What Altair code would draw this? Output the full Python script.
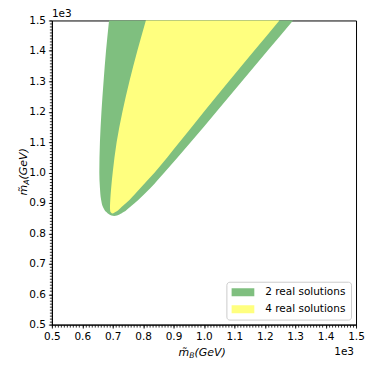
import altair as alt
import pandas as pd

# ---- data (GeV) ----
# Green region: 2 real solutions, boundaries in m_B for each m_A level
green_mA    = [857, 859, 862, 870, 887, 910, 950, 1000, 1100, 1200, 1300, 1400, 1500]
green_left  = [705, 696, 689, 679, 668, 662, 658, 656, 658, 663, 670, 678, 688]
green_right = [705, 714, 722, 736, 757, 784, 825, 870, 957, 1041, 1125, 1209, 1293]

# Yellow region: 4 real solutions
yellow_mA    = [865, 868, 872, 887, 910, 950, 1000, 1100, 1200, 1300, 1400, 1500]
yellow_left  = [699, 695, 692, 691, 692, 695, 700, 713, 732, 755, 781, 809]
yellow_right = [699, 705, 712, 729, 755, 792, 838, 920, 1000, 1082, 1165, 1248]

labels = ["2 real solutions", "4 real solutions"]
colors = ["#7fbf7f", "#ffff7f"]

major_ticks = [500, 600, 700, 800, 900, 1000, 1100, 1200, 1300, 1400, 1500]
minor_ticks = list(range(500, 1501, 10))

gdf = pd.DataFrame({"mA": green_mA, "left": green_left, "right": green_right, "kind": labels[0]})
ydf = pd.DataFrame({"mA": yellow_mA, "left": yellow_left, "right": yellow_right, "kind": labels[1]})

FONT = "DejaVu Sans"
FS = 10.5

xscale = alt.Scale(domain=[500, 1500], nice=False, zero=False)
yscale = alt.Scale(domain=[500, 1500], nice=False, zero=False)

def major_axis(orient):
    return alt.Axis(values=major_ticks, labelExpr="format(datum.value/1000, '.1f')",
                    title=None, orient=orient, grid=False, tickSize=3.5, tickWidth=0.8,
                    tickColor="black", domainColor="black", domainWidth=1,
                    labelColor="black", labelFont=FONT, labelFontSize=FS,
                    labelPadding=3, labelFlush=False, labelOverlap=False, zindex=1)

def minor_axis(orient):
    return alt.Axis(values=minor_ticks, labels=False, title=None, orient=orient,
                    grid=False, domain=False, tickSize=2.5, tickWidth=0.8,
                    tickColor="black", tickOpacity=1, zindex=1)

color = alt.Color("kind:N", scale=alt.Scale(domain=labels, range=colors),
                  legend=alt.Legend(title=None, orient="bottom-right", offset=5,
                                    fillColor="white", strokeColor="#cccccc",
                                    cornerRadius=3, padding=5,
                                    symbolType="M-1,-0.35L1,-0.35L1,0.35L-1,0.35Z",
                                    symbolSize=529, symbolStrokeWidth=0, symbolOpacity=1,
                                    labelFont=FONT, labelFontSize=FS, labelColor="black",
                                    labelOffset=11, rowPadding=6, clipHeight=11))

green = alt.Chart(gdf).mark_area(orient="horizontal", interpolate="monotone", opacity=1).encode(
    y=alt.Y("mA:Q", scale=yscale, axis=major_axis("left")),
    x=alt.X("left:Q", scale=xscale, axis=major_axis("bottom")),
    x2="right:Q",
    color=color,
)

yellow = alt.Chart(ydf).mark_area(orient="horizontal", interpolate="monotone", opacity=1).encode(
    y=alt.Y("mA:Q", scale=yscale, axis=minor_axis("left")),
    x=alt.X("left:Q", scale=xscale, axis=minor_axis("bottom")),
    x2="right:Q",
    color=color,
)

def txt(s, x, y, size=FS, style="normal", angle=0, align="left"):
    return alt.Chart(pd.DataFrame({"t": [s]})).mark_text(
        font=FONT, fontSize=size, fontStyle=style, angle=angle, align=align,
        baseline="alphabetic", color="black").encode(
        text="t:N", x=alt.value(x), y=alt.value(y))

texts = [
    # x axis title  m~_B(GeV)
    txt("m\u0303", 127, 336, size=11, style="italic"),
    txt("B", 137.7, 338.5, size=7.7, style="italic"),
    txt("(GeV)", 143, 336, size=11, style="italic"),
    # y axis title  m~_A(GeV), rotated
    txt("m\u0303", -25, 175.5, size=11, style="italic", angle=270),
    txt("A", -22.5, 164.8, size=7.7, style="italic", angle=270),
    txt("(GeV)", -25, 159.5, size=11, style="italic", angle=270),
    # offset texts
    txt("1e3", 0, -3),
    txt("1e3", 303, 335, align="right"),
]

chart = alt.layer(green, yellow, *texts).resolve_axis(
    x="independent", y="independent"
).properties(
    width=305, height=305,
    padding={"left": 44, "top": 12, "right": 10, "bottom": 35},
    autosize=alt.AutoSizeParams(type="none"),
).configure(font=FONT).configure_view(stroke="black", strokeWidth=1)

chart.save("out.html", embed_options={"renderer": "svg", "actions": False})
